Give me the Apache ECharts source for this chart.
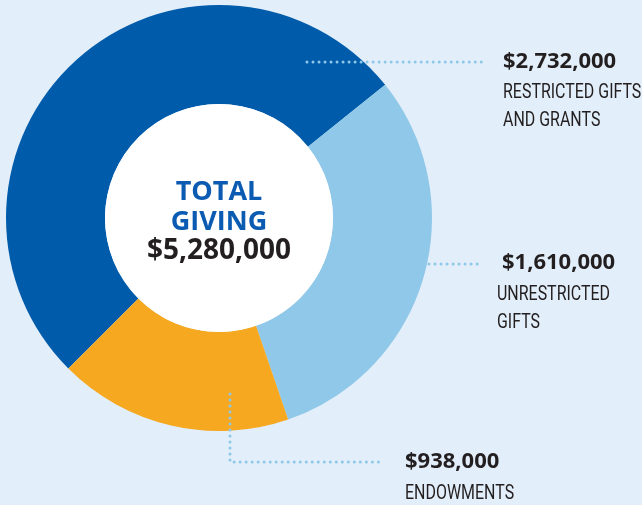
<!DOCTYPE html>
<html>
<head>
<meta charset="utf-8">
<script src="https://cdn.jsdelivr.net/npm/echarts@6/dist/echarts.min.js"></script>
<style>
  html, body { margin: 0; padding: 0; background: #e2eef9; }
  #main { width: 642px; height: 505px; }
</style>
</head>
<body>
<div id="main"></div>
<script>
// data
var categories = ['RESTRICTED GIFTS\nAND GRANTS', 'UNRESTRICTED\nGIFTS', 'ENDOWMENTS'];
var amounts = [2732000, 1610000, 938000];
var centerTitle = ['TOTAL', 'GIVING'];

var total = amounts.reduce(function (a, b) { return a + b; }, 0);
function money(v) {
  return '$' + v.toLocaleString('en-US');
}

var chart = echarts.init(document.getElementById('main'));

var dotLine = {
  stroke: '#8ec8e8',
  lineWidth: 3,
  lineDash: [0.01, 6],
  lineCap: 'round',
  fill: null
};
var numFont = 'bold 22px "Open Sans", sans-serif';
var nameFont = '21px "Roboto", sans-serif';
var ink = '#231f20';

// label blocks: [x, y of amount, x of name, y of first name line]
var labelPos = [
  [503, 62, 503, 93],
  [502, 263, 497, 295],
  [405, 462, 405, 494]
];

var graphics = [
  { type: 'circle', shape: { cx: 219, cy: 218, r: 114 }, style: { fill: '#ffffff' }, z: 5 },
  { type: 'polyline', shape: { points: [[307, 62], [484, 62]] }, style: dotLine, z: 10 },
  { type: 'polyline', shape: { points: [[429, 264], [481, 264]] }, style: dotLine, z: 10 },
  { type: 'polyline', shape: { points: [[230, 394], [230, 462], [384, 462]] }, style: dotLine, z: 10 },
  {
    type: 'text', x: 219, y: 192, z: 20,
    style: { text: centerTitle[0], font: 'bold 27px "Open Sans", sans-serif', fill: '#0a5bb1', align: 'center', verticalAlign: 'middle' }
  },
  {
    type: 'text', x: 219, y: 222, z: 20,
    style: { text: centerTitle[1], font: 'bold 27px "Open Sans", sans-serif', fill: '#0a5bb1', align: 'center', verticalAlign: 'middle' }
  },
  {
    type: 'text', x: 219, y: 251, z: 20,
    style: { text: money(total), font: 'bold 28px "Open Sans", sans-serif', fill: ink, align: 'center', verticalAlign: 'middle' }
  }
];

categories.forEach(function (name, i) {
  var p = labelPos[i];
  graphics.push({
    type: 'text', x: p[0], y: p[1], z: 20,
    style: { text: money(amounts[i]), font: numFont, fill: ink, verticalAlign: 'middle' }
  });
  name.split('\n').forEach(function (line, j) {
    graphics.push({
      type: 'text', x: p[2], y: p[3] + j * 28, z: 20, scaleX: 0.76,
      style: { text: line, font: nameFont, fill: ink, verticalAlign: 'middle' }
    });
  });
});

var option = {
  backgroundColor: '#e2eef9',
  animation: false,
  color: ['#005baa', '#8fc8e8', '#f5a820'],
  series: [
    {
      type: 'pie',
      center: [219, 218],
      radius: [114, 213],
      startAngle: 225,
      clockwise: true,
      label: { show: false },
      labelLine: { show: false },
      emphasis: { disabled: true },
      itemStyle: { borderWidth: 0 },
      data: categories.map(function (c, i) {
        return { name: c, value: amounts[i] };
      })
    }
  ],
  graphic: graphics
};

chart.setOption(option);
</script>
</body>
</html>
